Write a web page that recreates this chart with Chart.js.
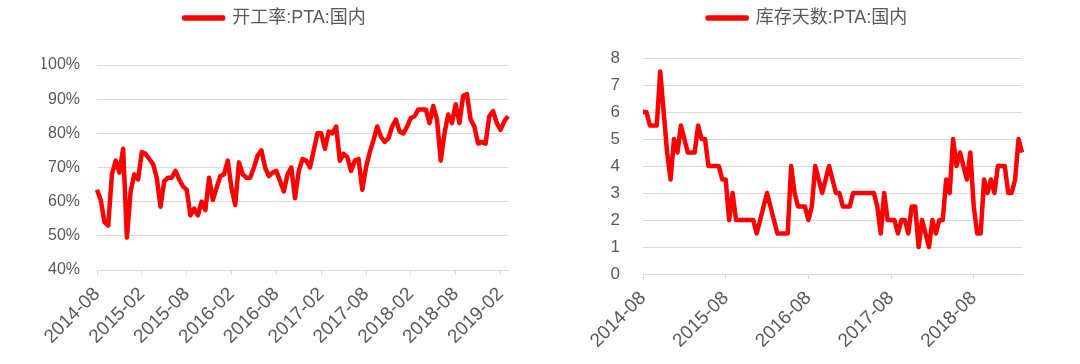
<!DOCTYPE html>
<html lang="zh">
<head>
<meta charset="utf-8">
<title>PTA 开工率 / 库存天数</title>
<script src="https://cdn.jsdelivr.net/npm/chart.js@4.4.1/dist/chart.umd.min.js"></script>
<style>
  html, body { margin: 0; padding: 0; background: #ffffff; }
  .panel { position: absolute; top: 0; width: 540px; height: 364px; }
  #panelTasa { left: 0; }
  #panelInventario { left: 540px; }
</style>
</head>
<body>
<div class="panel" id="panelTasa"><canvas id="graficoTasa"></canvas></div>
<div class="panel" id="panelInventario"><canvas id="graficoInventario"></canvas></div>
<script>
// Fechas quincenales desde 2014-08 hasta 2019-03 (categorías del eje X)
const fechas = [];
for (let m = 0; m < 55; m++) {
  const anio = 2014 + Math.floor((7 + m) / 12);
  const mes = String(((7 + m) % 12) + 1).padStart(2, "0");
  fechas.push(`${anio}-${mes}-01`, `${anio}-${mes}-16`);
}
fechas.push("2019-03-01");

// Etiquetas visibles en cada eje X
const etiquetasTasa = ["2014-08", "2015-02", "2015-08", "2016-02", "2016-08",
  "2017-02", "2017-08", "2018-02", "2018-08", "2019-02"];
const etiquetasInventario = ["2014-08", "2015-08", "2016-08", "2017-08", "2018-08"];

// 开工率:PTA:国内 (%)
const tasaOperativa = [
  63.5, 60.5, 54, 53, 68, 72, 68.5, 75.5, 49.5, 63,
  68, 66.5, 74.5, 74, 72.5, 71, 67, 58.5, 66, 67,
  67, 69, 66.5, 64.5, 63.5, 56, 58, 56, 60, 57.5,
  67, 60.5, 64, 67.5, 68, 72, 64, 59, 71.5, 68,
  67, 67, 70, 73.5, 75, 70, 67.5, 68.5, 69, 66,
  63, 68, 70, 61, 69, 72.5, 72, 70, 75, 80,
  80, 75.5, 80.5, 80, 82, 72, 74, 73, 69, 72,
  72.5, 63.5, 70, 74.5, 78, 82, 79, 77.5, 78.5, 82,
  84, 80.5, 80, 82, 84.5, 85, 87, 87, 87, 83,
  88, 84, 72, 80, 85.5, 83, 88.5, 83, 91, 91.5,
  84, 82, 77, 77.5, 77, 85, 86.5, 83, 81, 83.5,
  85
];

// 库存天数:PTA:国内 (días)
const diasInventario = [
  6, 6, 5.5, 5.5, 5.5, 7.5, 6, 4.5, 3.5, 5,
  4.5, 5.5, 5, 4.5, 4.5, 4.5, 5.5, 5, 5, 4,
  4, 4, 4, 3.5, 3.5, 2, 3, 2, 2, 2,
  2, 2, 2, 1.5, 2, 2.5, 3, 2.5, 2, 1.5,
  1.5, 1.5, 1.5, 4, 3, 2.5, 2.5, 2.5, 2, 2.5,
  4, 3.5, 3, 3.5, 4, 3.5, 3, 3, 2.5, 2.5,
  2.5, 3, 3, 3, 3, 3, 3, 3, 2.5, 1.5,
  3, 2, 2, 2, 1.5, 2, 2, 1.5, 2.5, 2.5,
  1, 2, 1.5, 1, 2, 1.5, 2, 2, 3.5, 3,
  5, 4, 4.5, 4, 3.5, 4.5, 2.5, 1.5, 1.5, 3.5,
  3, 3.5, 3, 4, 4, 4, 3, 3, 3.5, 5,
  4.5
];

const ROJO = "#ff0000";
const GRIS_TEXTO = "#595959";
const GRIS_REJILLA = "#d9d9d9";
const FUENTE = "'Liberation Sans', Arial, 'Noto Sans CJK SC', sans-serif";

/** Fuerza la altura de la leyenda para situar el área de trazado. */
const altoLeyenda = (alto) => ({
  id: "altoLeyenda",
  beforeInit(chart) {
    const ajusteOriginal = chart.legend.fit;
    chart.legend.fit = function () {
      ajusteOriginal.call(this);
      this.height = alto;
    };
  },
});

/**
 * Construye un gráfico de líneas con el estilo común de ambos paneles.
 */
function pintarLinea(idCanvas, cfg) {
  const ctx = document.getElementById(idCanvas).getContext("2d");
  return new Chart(ctx, {
    type: "line",
    data: {
      labels: fechas,
      datasets: [
        {
          label: cfg.titulo,
          data: cfg.datos,
          borderColor: ROJO,
          backgroundColor: ROJO,
          borderWidth: 4.5,
          borderJoinStyle: "round",
          pointRadius: 0,
          tension: 0,
        },
      ],
    },
    options: {
      responsive: true,
      maintainAspectRatio: false,
      animation: false,
      layout: { padding: cfg.relleno },
      plugins: {
        legend: {
          position: "top",
          labels: {
            boxWidth: 39,
            boxHeight: 1,
            padding: 9,
            color: GRIS_TEXTO,
            font: { family: FUENTE, size: 18 },
          },
        },
        tooltip: { enabled: false },
      },
      scales: {
        x: {
          type: "category",
          offset: false,
          afterFit: (escala) => { escala.height = cfg.altoEjeX; },
          border: { display: true, color: GRIS_REJILLA },
          grid: {
            drawOnChartArea: false,
            tickLength: 5,
            color: (c) => (c.tick && c.tick.label ? GRIS_REJILLA : "rgba(0,0,0,0)"),
          },
          ticks: {
            autoSkip: false,
            minRotation: 45,
            maxRotation: 45,
            padding: 8,
            color: GRIS_TEXTO,
            font: { family: FUENTE, size: 19 },
            callback: (valor, indice) => {
              const f = fechas[indice];
              const mes = f.slice(0, 7);
              return f.endsWith("-01") && cfg.etiquetas.includes(mes) ? mes : "";
            },
          },
        },
        y: {
          min: cfg.min,
          max: cfg.max,
          afterFit: (escala) => { escala.width = cfg.anchoEjeY; },
          border: { display: false },
          grid: { color: GRIS_REJILLA, drawTicks: false },
          ticks: {
            stepSize: cfg.paso,
            padding: cfg.rellenoY,
            color: GRIS_TEXTO,
            font: { family: FUENTE, size: cfg.fuenteY },
            callback: cfg.formato,
          },
        },
      },
    },
    plugins: [altoLeyenda(cfg.altoLeyenda)],
  });
}

pintarLinea("graficoTasa", {
  titulo: "开工率:PTA:国内",
  datos: tasaOperativa,
  etiquetas: etiquetasTasa,
  min: 40,
  max: 100,
  paso: 10,
  formato: (v) => v + "%",
  relleno: { left: 42, right: 32, top: 0, bottom: 0 },
  anchoEjeY: 55,
  rellenoY: 17,
  fuenteY: 16,
  altoEjeX: 94,
  altoLeyenda: 65,
});

pintarLinea("graficoInventario", {
  titulo: "库存天数:PTA:国内",
  datos: diasInventario,
  etiquetas: etiquetasInventario,
  min: 0,
  max: 8,
  paso: 1,
  formato: (v) => v,
  relleno: { left: 53, right: 58, top: 0, bottom: 0 },
  anchoEjeY: 50,
  rellenoY: 23,
  fuenteY: 17,
  altoEjeX: 90,
  altoLeyenda: 58,
});
</script>
</body>
</html>
